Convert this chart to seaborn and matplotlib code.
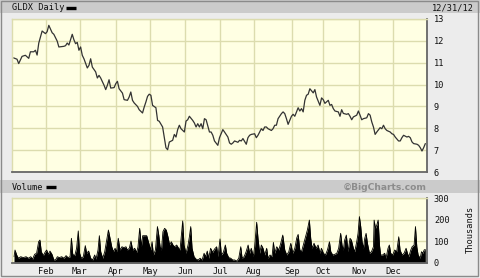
import matplotlib
matplotlib.use('Agg')
import matplotlib.pyplot as plt
import seaborn as sns
import pandas as pd
from matplotlib.patches import Rectangle
from matplotlib.lines import Line2D

# ---- data (trading-day index, 0 = first session of 2012) ----
price_day = [1, 3, 4, 6, 8, 10, 11, 13, 14, 15, 16, 18, 20, 21, 22, 24, 25, 27, 28, 31,
             32, 33, 34, 36, 37, 38, 39, 40, 41, 42, 43, 45, 46, 47, 48, 50, 51, 52, 53, 55,
             56, 57, 58, 59, 61, 62, 63, 64, 66, 67, 69, 70, 71, 72, 73, 75, 76, 78, 79, 80,
             81, 82, 83, 84, 86, 87, 88, 90, 91, 92, 93, 94, 96, 97, 98, 99, 100, 101, 103, 104,
             105, 106, 108, 109, 110, 111, 112, 113, 114, 115, 116, 118, 119, 120, 121, 123, 124, 125, 126, 127,
             129, 130, 131, 132, 133, 135, 136, 137, 138, 140, 141, 142, 143, 145, 146, 147, 149, 150, 151, 152,
             153, 155, 156, 157, 158, 159, 161, 162, 163, 164, 165, 167, 168, 169, 171, 172, 173, 174, 175, 176,
             177, 178, 180, 181, 182, 184, 185, 186, 187, 189, 190, 191, 192, 193, 195, 196, 197, 198, 200, 201,
             202, 203, 204, 206, 207, 208, 209, 210, 212, 213, 214, 215, 216, 217, 218, 220, 221, 222, 223, 224,
             226, 227, 228, 229, 231, 232, 233, 234, 236, 237, 238, 239, 240, 242, 243, 244, 245, 246, 247]
price = [11.22, 11.16, 10.96, 11.29, 11.34, 11.20, 11.50, 11.50, 11.57, 11.35, 11.90, 12.45, 12.33, 12.42, 12.71, 12.37, 12.30, 11.99, 11.72, 11.75,
         11.78, 11.90, 11.81, 12.30, 12.05, 11.87, 11.93, 11.57, 11.72, 11.34, 11.18, 10.76, 10.88, 11.18, 10.80, 10.58, 10.30, 10.42, 10.30, 9.97,
         9.77, 9.97, 10.22, 9.84, 9.86, 10.04, 10.15, 9.81, 9.61, 9.31, 9.28, 9.43, 9.66, 9.28, 9.16, 9.00, 8.85, 8.70, 8.97, 9.20,
         9.46, 9.56, 9.51, 9.05, 8.94, 8.36, 8.32, 8.06, 7.60, 7.11, 7.02, 7.37, 7.45, 7.72, 7.60, 7.94, 8.14, 7.98, 7.83, 8.33,
         8.39, 8.55, 8.36, 8.24, 8.06, 8.21, 8.06, 8.21, 7.98, 8.44, 8.39, 7.83, 7.83, 7.68, 7.42, 7.22, 7.57, 7.75, 7.94, 7.83,
         7.60, 7.33, 7.27, 7.33, 7.42, 7.36, 7.45, 7.42, 7.53, 7.27, 7.57, 7.68, 7.72, 7.75, 7.57, 7.68, 7.98, 7.90, 8.06, 8.06,
         7.98, 7.90, 7.98, 8.14, 8.14, 8.44, 8.67, 8.75, 8.67, 8.44, 8.18, 8.55, 8.64, 8.55, 8.94, 8.79, 8.90, 8.75, 9.28, 9.51,
         9.56, 9.81, 9.62, 9.77, 9.43, 9.05, 9.39, 9.31, 9.14, 9.28, 9.05, 9.09, 8.90, 8.79, 8.75, 8.55, 8.85, 8.68, 8.64, 8.67,
         8.55, 8.39, 8.52, 8.60, 8.79, 8.60, 8.39, 8.44, 8.48, 8.67, 8.60, 8.29, 8.06, 7.72, 7.83, 8.03, 7.98, 8.14, 7.98, 7.90,
         7.83, 7.75, 7.72, 7.60, 7.42, 7.42, 7.57, 7.68, 7.60, 7.63, 7.57, 7.38, 7.30, 7.27, 7.22, 7.11, 6.96, 7.11, 7.30]

vol_day = [1.2, 1.8, 2.8, 3.8, 5.2, 6.8, 8.4, 9.8, 11.2, 12.3, 13.5, 14.7, 15.9, 16.7, 17.5, 18.7, 19.7, 20.7, 21.7, 22.7,
           23.9, 25.1, 26.3, 27.1, 28.3, 29.7, 31.1, 32.3, 33.5, 34.7, 35.5, 36.3, 37.5, 38.6, 39.6, 40.4, 41.4, 42.6, 43.8, 44.6,
           45.8, 47.0, 48.2, 49.4, 50.2, 51.4, 52.2, 53.0, 54.2, 55.4, 56.6, 57.6, 58.6, 59.6, 60.6, 61.6, 62.5, 63.5, 64.5, 65.7,
           66.9, 68.1, 68.9, 70.1, 71.1, 72.1, 73.3, 74.5, 75.3, 76.3, 77.3, 78.1, 79.3, 80.5, 81.5,
           82.9, 83.7, 84.5, 85.7, 86.9, 87.7, 88.5, 89.3, 90.2, 91.2, 92.2, 93.2, 94.2, 95.2, 96.2, 97.2, 98.4, 99.6, 100.4, 101.2,
           102.0, 102.8, 104.0, 105.2, 106.0, 106.8, 107.6, 108.8, 110.0, 111.2, 112.4, 113.6, 114.8, 115.6, 116.7, 117.5, 118.7, 119.9, 121.1, 122.3,
           123.1, 124.3, 125.1, 126.3, 127.5, 128.3, 129.5, 130.7, 131.9, 133.1, 134.3, 135.5, 136.7, 137.5, 138.7, 139.9, 141.1, 142.0, 143.0, 144.2,
           145.0, 146.2, 147.0, 148.0, 149.0, 150.0, 151.0, 152.2, 153.0, 154.2, 155.4, 156.2, 157.0, 158.2, 159.4, 160.6, 161.8, 163.0, 164.2, 165.4,
           166.6, 167.8, 169.0, 170.2, 171.0, 172.0, 173.0, 174.1, 175.3, 176.5, 177.7, 178.5, 179.3, 180.5, 181.7, 182.9, 184.1, 184.9, 186.1, 187.3,
           188.5, 189.7, 190.5, 191.7, 192.9, 194.1, 195.2, 196.4, 197.2, 198.0, 198.8, 199.8, 200.8, 202.0, 202.8, 204.0, 204.8, 206.0, 206.8, 207.6,
           208.4, 209.2, 210.0, 210.8, 211.6, 212.4, 213.6, 214.8, 216.0, 216.4, 217.2, 218.0, 218.8, 219.6, 220.3, 221.5, 222.7, 223.5, 224.7, 225.5,
           226.3, 227.5, 228.7, 229.9, 231.1, 231.9, 233.1, 234.3, 235.5, 236.3, 237.1, 238.3, 239.1, 240.3, 241.1, 241.9, 242.7, 243.9, 244.7, 245.5,
           246.3, 247.0]
volume = [29, 60, 37, 22, 29, 25, 29, 22, 29, 18, 40, 45, 98, 106, 52, 34, 49, 60, 40, 55,
          40, 12, 18, 29, 25, 29, 22, 34, 25, 29, 114, 40, 34, 68, 148, 45, 22, 29, 80, 45,
          55, 22, 14, 37, 18, 60, 126, 52, 22, 52, 106, 152, 114, 75, 52, 68, 52, 114, 60, 75,
          71, 75, 60, 68, 101, 60, 68, 49, 75, 160, 75, 126, 126, 126, 98,
          60, 98, 37, 60, 168, 129, 75, 60, 145, 160, 152, 121, 83, 98, 83, 75, 83, 68, 60, 129,
          194, 83, 45, 83, 121, 168, 68, 29, 18, 14, 22, 14, 45, 29, 55, 22, 68, 49, 65, 75,
          29, 111, 37, 49, 83, 45, 25, 22, 14, 14, 9, 22, 75, 22, 29, 52, 83, 45, 68, 29,
          75, 188, 114, 45, 83, 68, 37, 68, 22, 37, 29, 95, 45, 75, 60, 91, 129, 60, 37, 52,
          91, 45, 68, 117, 132, 60, 52, 83, 117, 152, 198, 114, 68, 91, 68, 83, 45, 68, 45, 37,
          60, 98, 52, 37, 40, 45, 68, 137, 83, 60, 106, 129, 52, 114, 106, 68, 52, 98, 137, 214,
          168, 98, 68, 114, 137, 91, 45, 52, 75, 198, 160, 175, 198, 83, 37, 37, 45, 22, 68, 83,
          45, 37, 60, 52, 121, 60, 37, 45, 68, 45, 29, 60, 75, 83, 168, 75, 37, 22, 52, 45,
          60, 63]

month_labels = ['Feb', 'Mar', 'Apr', 'May', 'Jun', 'Jul', 'Aug', 'Sep', 'Oct', 'Nov', 'Dec']
month_day = [20.3, 40.6, 62.2, 82.5, 103.4, 124.3, 144.6, 167.4, 185.9, 207.4, 227.7]
price_ticks = [6, 7, 8, 9, 10, 11, 12, 13]
vol_ticks = [0, 100, 200, 300]

sns.set_theme(style='white')
plt.rcParams['font.family'] = ['DejaVu Sans Mono', 'DejaVu Sans']

W, H = 480, 278
fig = plt.figure(figsize=(W / 100, H / 100), dpi=100)
fig.patch.set_facecolor('#ececec')


def fr(x0, y0, x1, y1):
    return [x0 / W, 1 - y1 / H, (x1 - x0) / W, (y1 - y0) / H]


def fx(x):
    return x / W


def fy(y):
    return 1 - y / H


# header bars
fig.add_artist(Rectangle((0, fy(13)), 1, 13 / H, transform=fig.transFigure,
                         facecolor='#cbcbcb', edgecolor='none', zorder=0))
fig.add_artist(Rectangle((0, fy(193)), 1, 13 / H, transform=fig.transFigure,
                         facecolor='#cbcbcb', edgecolor='none', zorder=0))
fig.add_artist(Rectangle((0.002, 0.006), 0.994, 0.992, transform=fig.transFigure,
                         facecolor='none', edgecolor='#8a8a8a', lw=1.0, zorder=5))

grid_c = '#dcdcae'
bg = '#ffffe3'
fs = 6.2

ax1 = fig.add_axes(fr(12, 19, 427, 172))
ax2 = fig.add_axes(fr(12, 198, 427, 263))

for ax in (ax1, ax2):
    ax.set_facecolor(bg)
    ax.set_xlim(0, 248)
    ax.set_xticks(month_day)
    ax.grid(True, color=grid_c, lw=1.0)
    ax.set_axisbelow(True)
    ax.yaxis.tick_right()
    ax.tick_params(axis='both', length=0, labelsize=fs, colors='#111111', pad=5)
    for s in ('top', 'left'):
        ax.spines[s].set_color(grid_c)
        ax.spines[s].set_linewidth(1.0)
    for s in ('bottom', 'right'):
        ax.spines[s].set_color('#666666')
        ax.spines[s].set_linewidth(1.3)

df_p = pd.DataFrame({'day': price_day, 'price': price})
sns.lineplot(data=df_p, x='day', y='price', ax=ax1, color='#333333', lw=0.9)
ax1.set_ylim(6, 13)
ax1.set_yticks(price_ticks)
ax1.set_xticklabels([])
ax1.set_xlabel('')
ax1.set_ylabel('')

df_v = pd.DataFrame({'day': vol_day, 'volume': volume})
ax2.fill_between(df_v['day'], df_v['volume'], color='black', lw=0)
sns.lineplot(data=df_v, x='day', y='volume', ax=ax2, color='black', lw=0.6)
ax2.set_ylim(0, 300)
ax2.set_yticks(vol_ticks)
ax2.set_xticklabels(month_labels)
ax2.tick_params(axis='x', pad=3)
ax2.set_xlabel('')
ax2.set_ylabel('')

# texts
fig.text(fx(12), fy(8), 'GLDX Daily', fontsize=fs, va='center', ha='left', color='#111111')
fig.add_artist(Line2D([fx(66), fx(76)], [fy(8), fy(8)], transform=fig.transFigure,
                      color='black', lw=2.4, solid_capstyle='butt'))
fig.text(fx(474), fy(8), '12/31/12', fontsize=fs, va='center', ha='right', color='#111111')
fig.text(fx(12), fy(187), 'Volume', fontsize=fs, va='center', ha='left', color='#111111')
fig.add_artist(Line2D([fx(46), fx(56)], [fy(187), fy(187)], transform=fig.transFigure,
                      color='black', lw=2.4, solid_capstyle='butt'))
fig.text(fx(427), fy(187), '\u00a9BigCharts.com', fontsize=6.6, va='center', ha='right',
         color='#8c8c8c', fontweight='bold', family=['DejaVu Sans'])
fig.text(fx(470), fy(229), 'Thousands', fontsize=fs, va='center', ha='center',
         rotation=90, color='#111111')

fig.savefig('out.png', dpi=100, facecolor=fig.get_facecolor())
